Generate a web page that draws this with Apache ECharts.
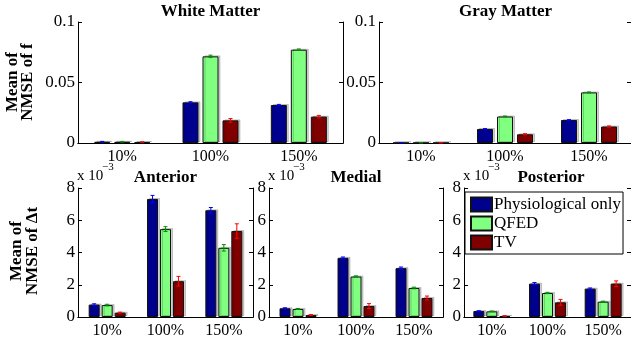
<!DOCTYPE html>
<html>
<head>
<meta charset="utf-8">
<script src="https://cdn.jsdelivr.net/npm/echarts@6/dist/echarts.min.js"></script>
<style>html,body{margin:0;padding:0;background:#fff;}#c{width:631px;height:342px;}</style>
</head>
<body>
<div id="c"></div>
<script>
// ---- data ----
const categories = ['10%', '100%', '150%'];
const seriesNames = ['Physiological only', 'QFED', 'TV'];

// Mean of NMSE of f
const wmPhys = [0.0010, 0.0336, 0.0314];
const wmQfed = [0.0010, 0.0716, 0.0771];
const wmTv   = [0.0008, 0.0187, 0.0218];
const wmPhysErr = [0.0003, 0.0005, 0.0005];
const wmQfedErr = [0.0003, 0.0010, 0.0006];
const wmTvErr   = [0.0002, 0.0015, 0.0010];

const gmPhys = [0.0002, 0.0116, 0.0190];
const gmQfed = [0.0002, 0.0219, 0.0418];
const gmTv   = [0.0002, 0.0072, 0.0136];
const gmPhysErr = [0.0001, 0.0003, 0.0003];
const gmQfedErr = [0.0001, 0.0004, 0.0004];
const gmTvErr   = [0.0001, 0.0005, 0.0005];

// Mean of NMSE of Δt (x 10^-3)
const antPhys = [0.77, 7.32, 6.62];
const antQfed = [0.74, 5.45, 4.29];
const antTv   = [0.27, 2.22, 5.33];
const antPhysErr = [0.05, 0.22, 0.17];
const antQfedErr = [0.05, 0.15, 0.20];
const antTvErr   = [0.03, 0.30, 0.45];

const medPhys = [0.54, 3.67, 3.03];
const medQfed = [0.50, 2.51, 1.80];
const medTv   = [0.12, 0.68, 1.18];
const medPhysErr = [0.03, 0.05, 0.07];
const medQfedErr = [0.03, 0.04, 0.05];
const medTvErr   = [0.03, 0.15, 0.12];

const postPhys = [0.37, 2.07, 1.76];
const postQfed = [0.35, 1.49, 0.95];
const postTv   = [0.06, 0.91, 2.07];
const postPhysErr = [0.02, 0.07, 0.04];
const postQfedErr = [0.02, 0.04, 0.03];
const postTvErr   = [0.02, 0.18, 0.17];

const topTicks = {min: 0, max: 0.1, interval: 0.05};
const botTicks = {min: 0, max: 8, interval: 2};

// ---- style ----
const barColors = ['#00008f', '#80ff80', '#800000'];
const errColors = ['#0000ff', '#009000', '#ff0000'];
const FONT = '"Liberation Serif", "Times New Roman", serif';

const panels = [
  {title: 'White Matter', left: 78, top: 22, width: 265, height: 121, vals: [wmPhys, wmQfed, wmTv], errs: [wmPhysErr, wmQfedErr, wmTvErr], ticks: topTicks, barW: 16, gap: 0.25, titleY: 12},
  {title: 'Gray Matter', left: 379, top: 22, width: 253, height: 121, vals: [gmPhys, gmQfed, gmTv], errs: [gmPhysErr, gmQfedErr, gmTvErr], ticks: topTicks, barW: 16, gap: 0.25, titleY: 12},
  {title: 'Anterior', left: 78, top: 188, width: 175, height: 129, vals: [antPhys, antQfed, antTv], errs: [antPhysErr, antQfedErr, antTvErr], ticks: botTicks, barW: 11, gap: 0.18, titleY: 178, exp: true},
  {title: 'Medial', left: 269, top: 188, width: 174, height: 129, vals: [medPhys, medQfed, medTv], errs: [medPhysErr, medQfedErr, medTvErr], ticks: botTicks, barW: 11, gap: 0.18, titleY: 178, exp: true},
  {title: 'Posterior', left: 464, top: 188, width: 174, height: 129, vals: [postPhys, postQfed, postTv], errs: [postPhysErr, postQfedErr, postTvErr], ticks: botTicks, barW: 11, gap: 0.18, titleY: 178, exp: true}
];

const grid = [], xAxis = [], yAxis = [], series = [], graphic = [];
const lineStyle = {color: '#000', width: 1};

panels.forEach((p, k) => {
  grid.push({left: p.left, top: p.top, width: p.width, height: p.height, containLabel: false});
  xAxis.push({
    type: 'category', gridIndex: k, data: categories, position: 'bottom',
    axisLine: {lineStyle}, axisTick: {inside: true, length: 4, alignWithLabel: true, lineStyle},
    axisLabel: {color: '#000', fontFamily: FONT, fontSize: 16, margin: 6}
  });
  xAxis.push({
    type: 'category', gridIndex: k, data: categories, position: 'top',
    axisLine: {lineStyle}, axisTick: {inside: true, length: 4, alignWithLabel: true, lineStyle},
    axisLabel: {show: false}
  });
  yAxis.push({
    type: 'value', gridIndex: k, position: 'left', min: p.ticks.min, max: p.ticks.max, interval: p.ticks.interval,
    axisLine: {show: true, lineStyle}, axisTick: {show: true, inside: true, length: 4, lineStyle},
    splitLine: {show: false},
    axisLabel: {color: '#000', fontFamily: FONT, fontSize: 17, margin: 3}
  });
  yAxis.push({
    type: 'value', gridIndex: k, position: 'right', min: p.ticks.min, max: p.ticks.max, interval: p.ticks.interval,
    axisLine: {show: true, lineStyle}, axisTick: {show: true, inside: true, length: 4, lineStyle},
    splitLine: {show: false}, axisLabel: {show: false}
  });

  p.vals.forEach((v, i) => {
    series.push({
      name: seriesNames[i], type: 'bar', xAxisIndex: 2 * k, yAxisIndex: 2 * k,
      data: v, barWidth: p.barW, barGap: (p.gap * 100) + '%',
      itemStyle: {color: barColors[i], borderColor: '#111', borderWidth: 1,
        shadowColor: 'rgba(0,0,0,0.18)', shadowOffsetX: 2, shadowOffsetY: -1, shadowBlur: 0},
      emphasis: {disabled: true}, silent: true, z: 2
    });
  });

  p.vals.forEach((v, i) => {
    const offset = (i - 1) * p.barW * (1 + p.gap);
    const col = errColors[i];
    series.push({
      type: 'custom', xAxisIndex: 2 * k, yAxisIndex: 2 * k, z: 5, silent: true,
      data: v.map((val, j) => [j, val, p.errs[i][j]]),
      encode: {x: 0, y: 1},
      renderItem: function (params, api) {
        const x = api.coord([api.value(0), api.value(1)])[0] + offset;
        const hi = api.coord([api.value(0), api.value(1) + api.value(2)])[1];
        const lo = api.coord([api.value(0), Math.max(0, api.value(1) - api.value(2))])[1];
        const s = {stroke: col, lineWidth: 1};
        return {type: 'group', children: [
          {type: 'line', shape: {x1: x, y1: lo, x2: x, y2: hi}, style: s},
          {type: 'line', shape: {x1: x - 2, y1: hi, x2: x + 2, y2: hi}, style: s},
          {type: 'line', shape: {x1: x - 2, y1: lo, x2: x + 2, y2: lo}, style: s}
        ]};
      }
    });
  });

  graphic.push({type: 'text', x: p.left + p.width / 2, y: p.titleY, z: 10,
    style: {text: p.title, font: 'bold 17px ' + FONT, fill: '#000', textAlign: 'center', textVerticalAlign: 'middle', align: 'center', verticalAlign: 'middle'}});
  if (p.exp) {
    graphic.push({type: 'text', x: p.left - 1, y: 176, z: 10,
      style: {text: 'x 10', font: '15px ' + FONT, fill: '#000', textAlign: 'left', textVerticalAlign: 'middle', align: 'left', verticalAlign: 'middle'}});
    graphic.push({type: 'text', x: p.left + 24, y: 167, z: 10,
      style: {text: '\u22123', font: '11px ' + FONT, fill: '#000', textAlign: 'left', textVerticalAlign: 'middle', align: 'left', verticalAlign: 'middle'}});
  }
});

graphic.push({type: 'text', x: 20, y: 82, rotation: Math.PI / 2, z: 10,
  style: {text: 'Mean of\nNMSE of f', font: 'bold 17px ' + FONT, lineHeight: 15, fill: '#000', textAlign: 'center', textVerticalAlign: 'middle', align: 'center', verticalAlign: 'middle'}});
graphic.push({type: 'text', x: 25, y: 251, rotation: Math.PI / 2, z: 10,
  style: {text: 'Mean of\nNMSE of \u0394t', font: 'bold 17px ' + FONT, lineHeight: 16, fill: '#000', textAlign: 'center', textVerticalAlign: 'middle', align: 'center', verticalAlign: 'middle'}});

const option = {
  animation: false,
  backgroundColor: '#fff',
  grid, xAxis, yAxis, series, graphic,
  legend: {
    data: seriesNames, orient: 'vertical', left: 465, top: 192,
    icon: 'rect', itemWidth: 21, itemHeight: 14, itemGap: 2,
    padding: [4, 2, 3, 5],
    backgroundColor: '#fff', borderColor: '#000', borderWidth: 1,
    textStyle: {color: '#000', fontFamily: FONT, fontSize: 17, padding: [0, 0, 0, -3]},
    selectedMode: false
  }
};

const chart = echarts.init(document.getElementById('c'), null, {renderer: 'canvas'});
chart.setOption(option);
</script>
</body>
</html>
